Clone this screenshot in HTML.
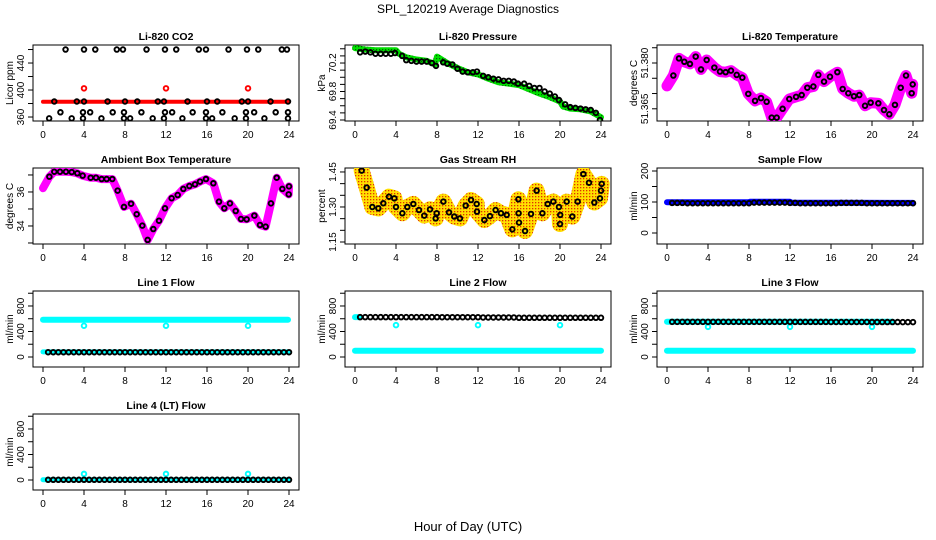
<!DOCTYPE html>
<html><head><meta charset="utf-8"><style>
body{margin:0;background:#fff}
svg{display:block;font-family:"Liberation Sans",sans-serif}
</style></head><body>
<svg id="c" width="936" height="540" viewBox="0 0 936 540" xmlns="http://www.w3.org/2000/svg">
<defs>
<pattern id="rhdots" width="3" height="3" patternUnits="userSpaceOnUse"><rect width="3" height="3" fill="#ffe000"/><rect x="1" y="1" width="1.3" height="1.3" fill="#e03000"/></pattern>
<pattern id="grdots" width="3" height="3" patternUnits="userSpaceOnUse"><rect width="3" height="3" fill="#00e000"/><rect x="1" y="1" width="1.2" height="1.2" fill="#006000"/></pattern>
</defs>
<text x="468" y="13" font-size="12" text-anchor="middle">SPL_120219  Average Diagnostics</text>
<text x="468" y="531" font-size="13" text-anchor="middle">Hour of Day (UTC)</text>
</svg>
<script>
// ---- data ----
const H = [0.5,1,1.5,2,2.5,3,3.5,4,4.5,5,5.5,6,6.5,7,7.5,8,8.5,9,9.5,10,10.5,11,11.5,12,12.5,13,13.5,14,14.5,15,15.5,16,16.5,17,17.5,18,18.5,19,19.5,20,20.5,21,21.5,22,22.5,23,23.5,24];
const xTicks = [0,4,8,12,16,20,24];

const co2TopH = [2.2,4,5.1,7.2,7.8,10.1,11.9,13,15.2,15.9,18.1,19.9,21,23.3,23.8];
const co2MidH = [1.1,3.3,4,6.3,8,9.2,11.2,11.8,14.1,16,17,19.4,20,22.2,23.9];
const co2LowH = [1.7,3.9,4.6,6.8,7.9,9.6,11.9,12.6,14.6,15.9,17.5,19.8,20.6,22.7,23.9];
const co2BotH = [0.6,2.8,3.9,5.7,7.9,8.5,10.7,11.8,13.6,15.9,16.5,18.7,19.8,21.6,23.9];
const co2Levels = [460,383,367,358];
const co2RedH = [0,24]; const co2RedV = [382.5,382.5];
const co2OutH = [4,12,20]; const co2OutV = [402.5,402.5,402.5];

const presGH = [0,1,2,3,4,4.3,5,6,7,7.8,8,9,10,11,12,13,14,15,16,17,18,19,20,20.3,21,22,23,24];
const presGV = [70.41,70.39,70.38,70.38,70.38,70.33,70.28,70.25,70.23,70.18,70.29,70.2,70.13,70.07,70.04,69.98,69.93,69.91,69.89,69.83,69.77,69.72,69.66,69.59,69.56,69.55,69.52,69.44];
const presBH = [0.5,1,1.5,2,2.5,3,3.5,3.9,4.6,5,5.5,6,6.5,7,7.5,7.9,8.6,9,9.5,10,10.5,11,11.5,11.9,12.5,13,13.5,14,14.5,15,15.5,15.9,16.5,17,17.5,18,18.5,19,19.5,19.9,20.5,21,21.5,22,22.5,23,23.5,23.9];
const presBV = [70.35,70.36,70.35,70.33,70.33,70.33,70.33,70.34,70.3,70.24,70.23,70.22,70.22,70.22,70.2,70.16,70.21,70.19,70.18,70.12,70.08,70.07,70.07,70.08,70.02,70.0,69.98,69.97,69.95,69.95,69.94,69.91,69.91,69.88,69.85,69.85,69.8,69.77,69.73,69.68,69.62,69.58,69.57,69.56,69.55,69.54,69.5,69.4];

const tempH = [0,0.62,1.17,1.69,2.24,2.8,3.32,3.87,4.62,5.17,5.72,6.24,6.8,7.35,7.93,8.59,9.17,9.72,10.21,10.7,11.28,11.93,12.59,13.14,13.69,14.28,14.76,15.32,15.9,16.62,17.14,17.69,18.24,18.76,19.32,19.87,20.62,21.17,21.69,22.24,22.8,23.32,23.87,23.97];
const tempV = [51.3725,51.3759,51.3815,51.3804,51.3797,51.3821,51.3779,51.381,51.3785,51.3772,51.377,51.3775,51.3761,51.3752,51.3699,51.3676,51.3685,51.3673,51.3621,51.3621,51.365,51.3682,51.3689,51.3695,51.3719,51.3723,51.3761,51.3739,51.3755,51.377,51.3715,51.3701,51.3691,51.3695,51.366,51.367,51.3668,51.3646,51.3632,51.3663,51.3719,51.3759,51.3701,51.373];

const ambH = [0,0.62,1.1,1.66,2.24,2.8,3.35,3.87,4.65,5.17,5.72,6.21,6.76,7.28,7.9,8.59,9.14,9.69,10.21,10.76,11.32,11.9,12.55,13.14,13.69,14.28,14.83,15.32,15.9,16.62,17.17,17.69,18.24,18.8,19.32,19.87,20.62,21.17,21.72,22.24,22.8,23.35,23.97,24];
const ambV = [36.22,36.9,37.19,37.19,37.19,37.17,37.1,36.96,36.84,36.84,36.76,36.76,36.76,36.08,35.12,35.31,34.69,34.02,33.18,33.82,34.31,35.04,35.63,35.82,36.18,36.35,36.45,36.61,36.76,36.51,35.43,35.04,35.33,34.88,34.41,34.39,34.61,34.06,33.96,35.33,36.84,36.18,35.86,36.33];

const rhH = [0.65,1.14,1.69,2.28,2.76,3.32,3.84,4.0,4.62,5.1,5.69,6.24,6.76,7.32,7.87,7.97,8.62,9.17,9.69,10.24,10.8,11.32,11.87,11.9,12.62,13.17,13.72,14.24,14.8,15.35,15.94,15.96,16.0,16.59,17.17,17.72,18.28,18.8,19.35,19.9,20.0,20.02,20.65,21.2,21.72,22.28,22.83,23.35,23.9,24.0,24.07];
const rhV = [1.456,1.383,1.30,1.294,1.316,1.344,1.337,1.30,1.273,1.30,1.313,1.287,1.263,1.29,1.251,1.273,1.323,1.277,1.259,1.251,1.306,1.33,1.313,1.28,1.244,1.261,1.287,1.273,1.266,1.204,1.333,1.273,1.233,1.197,1.27,1.37,1.273,1.313,1.323,1.30,1.227,1.266,1.323,1.259,1.323,1.441,1.404,1.319,1.337,1.37,1.399];

const sampleBandH = [0,8,8.1,12,12.1,24]; const sampleBandV = [99,99,101,101,98,97];
const sampleV = [97,97,97,96,96,96,96,96,96,96,96,96,96,96,96,96,98,98,98,98,98,98,98,97,97,96,96,96,96,96,96,96,96,97,97,97,97,97,96,96,96,96,96,96,96,96,96,96];

const l1TopH = [0,23.9]; const l1TopV = [585,585];
const l1LowH = [0,24]; const l1LowV = [80,80];
const l1V = [75,75,75,75,75,75,75,75,75,75,75,75,75,75,75,75,75,75,75,75,75,75,75,75,75,75,75,75,75,75,75,75,75,75,75,75,75,75,75,75,75,75,75,75,75,75,75,75];
const l2TopH = [0,0.5]; const l2TopV = [625,625];
const l2LowH = [0,24]; const l2LowV = [99,99];
const l2V = [625,625,625,625,625,625,625,625,625,625,625,625,625,625,625,625,624,624,624,624,624,624,624,624,620,620,620,620,620,620,620,615,615,615,615,615,615,615,615,615,615,615,615,615,615,615,615,615];
const l3TopH = [0,22]; const l3TopV = [553,553];
const l3LowH = [0,24]; const l3LowV = [99,99];
const l3V = [551,551,551,551,551,551,551,551,551,551,551,551,551,551,551,551,551,551,551,551,551,551,551,551,550,550,550,550,550,550,550,549,549,549,549,549,549,549,549,548,548,548,548,548,548,547,547,547];
const l4BandH = [0,24]; const l4BandV = [5,5];
const l4V = [3,3,3,3,3,3,3,3,3,3,3,3,3,3,3,3,3,3,3,3,3,3,3,3,3,3,3,3,3,3,3,3,3,3,3,3,3,3,3,3,3,3,3,3,3,3,3,3];
const outH = [4,12,20];
const l1OutV = [490,490,490]; const l2OutV = [500,500,500]; const l3OutV = [473,473,473]; const l4OutV = [95,95,95];

// ---- drawing ----
const svg = document.getElementById('c');
const NS = 'http://www.w3.org/2000/svg';
const COLX = [43,355,667], ROWY = [45,168,291,414], PH = 76;
function mk(tag, attrs, parent){const e=document.createElementNS(NS,tag);for(const k in attrs)e.setAttribute(k,attrs[k]);(parent||svg).appendChild(e);return e;}

function panel(name, col, row, ymin, ymax, yTicks, yLabels, ylab, title){
  const g = mk('g',{});
  
  
  const x0 = COLX[col], top = ROWY[row], bot = top+PH;
  const sx = h => x0 + h*10.25;
  const sy = v => top + (ymax - v)/(ymax - ymin)*PH;
  const t = mk('text',{x:x0+123,y:top-5,'font-size':10.5,'font-weight':'bold','text-anchor':'middle'},g);
  t.textContent = title;
  
  
  const box = mk('rect',{x:x0-10,y:top,width:266,height:PH,fill:'none',stroke:'#000','stroke-width':1},g);
  
  
  const xa = mk('g',{},g);
  
  
  xTicks.forEach(h=>{
    mk('line',{x1:sx(h),x2:sx(h),y1:bot,y2:bot+5,stroke:'#000'},xa);
    const l = mk('text',{x:sx(h),y:bot+17,'font-size':10,'text-anchor':'middle'},xa);
    l.textContent = h;
  });
  const ya = mk('g',{},g);
  
  
  yTicks.forEach((v,i)=>{
    mk('line',{x1:x0-10,x2:x0-15,y1:sy(v),y2:sy(v),stroke:'#000'},ya);
    if(yLabels[i]){
      const l = mk('text',{x:x0-19,y:sy(v),'font-size':10,'text-anchor':'middle',transform:`rotate(-90 ${x0-19} ${sy(v)})`},ya);
      l.textContent = yLabels[i];
    }
  });
  const yl = mk('text',{x:x0-30,y:top+PH/2,'font-size':10,'text-anchor':'middle',transform:`rotate(-90 ${x0-30} ${top+PH/2})`},g);
  yl.textContent = ylab;
  
  
  const clipId = 'clip'+name;
  const cp = mk('clipPath',{id:clipId},g); mk('rect',{x:x0-10,y:top,width:266,height:PH},cp);
  const plot = mk('g',{'clip-path':`url(#${clipId})`},g);
  return {sx,sy,plot};
}
function band(p, hs, vs, color, w, nm){
  const d = hs.map((h,i)=>`${i?'L':'M'}${p.sx(h).toFixed(1)},${p.sy(vs[i]).toFixed(1)}`).join('');
  const e = mk('path',{d,fill:'none',stroke:color,'stroke-width':w,'stroke-linecap':'round','stroke-linejoin':'round'},p.plot);
  
  
}
function pts(p, hs, vs, color, nm, r){
  const g = mk('g',{},p.plot);
  
  
  hs.forEach((h,i)=>{
    mk('circle',{cx:p.sx(h),cy:p.sy(vs[i]),r:r||2.3,fill:'none',stroke:color,'stroke-width':1.9},g);
  });
}

// Li-820 CO2
let p = panel('co2',0,0,354.1,466.7,[360,380,400,420,440,460],['360','','400','','440',''],'Licor ppm','Li-820 CO2');
band(p,co2RedH,co2RedV,'#ff0000',4,'co2-red-series');
pts(p,co2OutH,co2OutV,'#ff0000','co2-red-outliers');
[co2TopH,co2MidH,co2LowH,co2BotH].forEach((hs,k)=>pts(p,hs,hs.map(()=>co2Levels[k]),'#000','co2-black-points-'+k));

// Pressure
p = panel('pressure',1,0,69.386,70.453,[69.4,69.5,69.6,69.7,69.8,69.9,70.0,70.1,70.2,70.3,70.4],['69.4','','','','69.8','','','','70.2','',''],'kPa','Li-820 Pressure');
band(p,presGH,presGV,'url(#grdots)',6,'pressure-green-series');
pts(p,presBH,presBV,'#000','pressure-black-points');

// Li-820 Temperature
p = panel('li820-temp',2,0,51.3610,51.3859,[51.365,51.370,51.375,51.380,51.385],['51.365','','','51.380',''],'degrees C','Li-820 Temperature');
band(p,tempH,tempV,'#ff00ff',11,'li820-temp-magenta-series');
pts(p,tempH.slice(1),tempV.slice(1),'#000','li820-temp-black-points');

// Ambient Box Temperature
p = panel('ambient',0,1,32.94,37.41,[33,34,35,36,37],['','34','','36',''],'degrees C','Ambient Box Temperature');
band(p,ambH,ambV,'#ff00ff',8,'ambient-magenta-series');
pts(p,ambH.slice(1),ambV.slice(1),'#000','ambient-black-points');

// Gas Stream RH
p = panel('rh',1,1,1.1414,1.467,[1.15,1.20,1.25,1.30,1.35,1.40,1.45],['1.15','','','1.30','','','1.45'],'percent','Gas Stream RH');
band(p,rhH,rhV,'url(#rhdots)',16,'rh-yellow-series');
pts(p,rhH,rhV,'#000','rh-black-points');

// Sample Flow
p = panel('sample-flow',2,1,-35.5,209.7,[0,50,100,150,200],['0','','100','','200'],'ml/min','Sample Flow');
band(p,sampleBandH,sampleBandV,'#0000ff',6,'sample-flow-blue-series');
pts(p,H,sampleV,'#000','sample-flow-black-points');

const fT = [0,200,400,600,800,1000], fL = ['0','','400','','800',''];
// Line 1
p = panel('line1',0,2,-157,1035,fT,fL,'ml/min','Line 1 Flow');
band(p,l1TopH,l1TopV,'#00ffff',6,'line1-cyan-upper');
band(p,l1LowH,l1LowV,'#00ffff',5,'line1-cyan-lower');
pts(p,outH,l1OutV,'#00ffff','line1-cyan-outliers');
pts(p,H,l1V,'#000','line1-black-points');
// Line 2
p = panel('line2',1,2,-157,1035,fT,fL,'ml/min','Line 2 Flow');
band(p,l2LowH,l2LowV,'#00ffff',6,'line2-cyan-lower');
band(p,l2TopH,l2TopV,'#00ffff',6,'line2-cyan-upper');
pts(p,outH,l2OutV,'#00ffff','line2-cyan-outliers');
pts(p,H,l2V,'#000','line2-black-points');
// Line 3
p = panel('line3',2,2,-157,1035,fT,fL,'ml/min','Line 3 Flow');
band(p,l3LowH,l3LowV,'#00ffff',6,'line3-cyan-lower');
band(p,l3TopH,l3TopV,'#00ffff',6,'line3-cyan-upper');
pts(p,outH,l3OutV,'#00ffff','line3-cyan-outliers');
pts(p,H,l3V,'#000','line3-black-points');
// Line 4
p = panel('line4',0,3,-157,1035,fT,fL,'ml/min','Line 4 (LT) Flow');
band(p,l4BandH,l4BandV,'#00ffff',5,'line4-cyan-series');
pts(p,outH,l4OutV,'#00ffff','line4-cyan-outliers');
pts(p,H,l4V,'#000','line4-black-points');
</script>
</body></html>
